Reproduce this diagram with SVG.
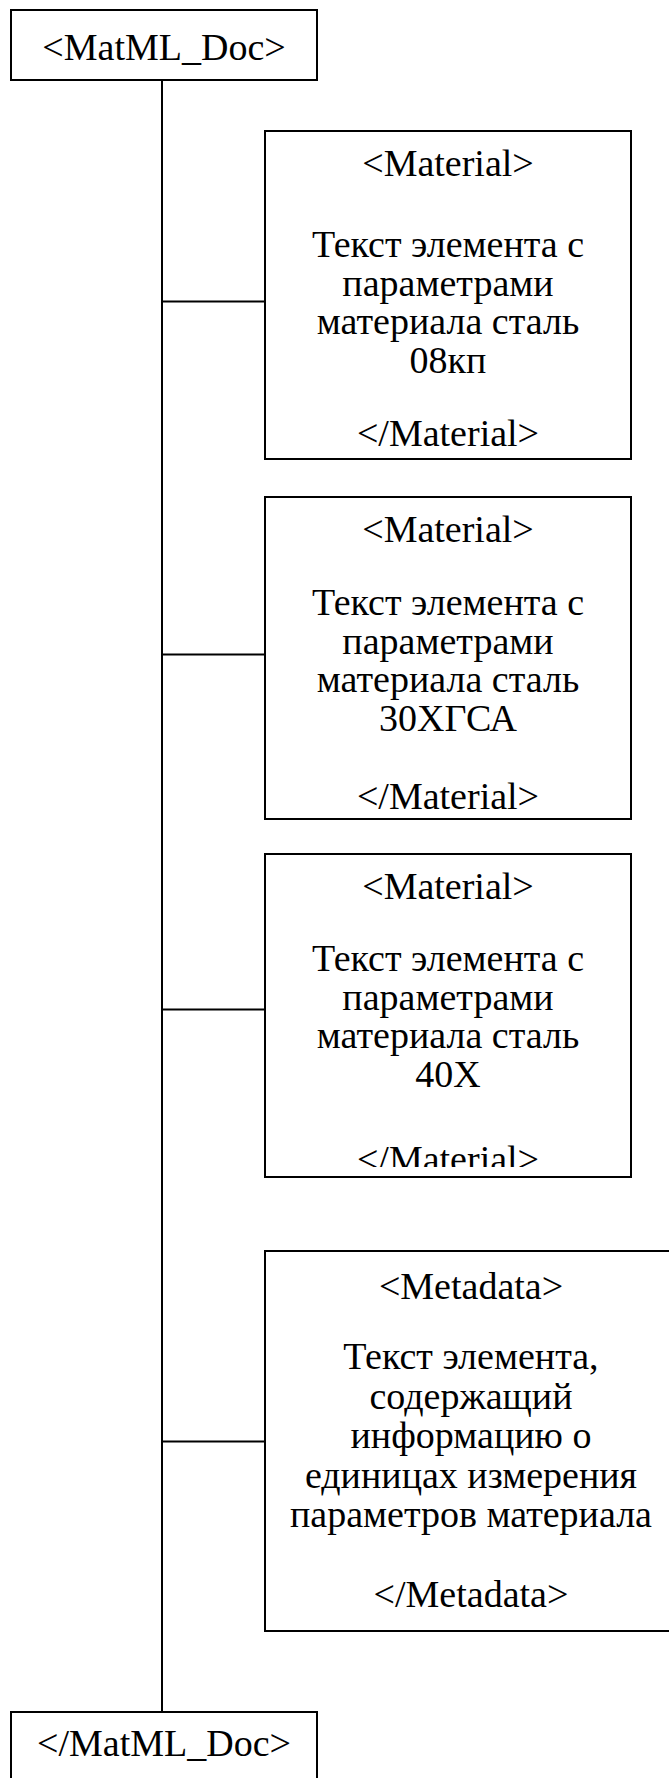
<svg xmlns="http://www.w3.org/2000/svg" width="669" height="1778" viewBox="0 0 669 1778">
<style>
.box{fill:#fff;stroke:#000;stroke-width:2}
.ln{stroke:#000;stroke-width:2;fill:none}
text{font-family:"Liberation Serif","Times New Roman",serif;font-size:38px;fill:#000;text-anchor:middle}
</style>
<defs>
<clipPath id="c1"><rect x="265" y="131" width="366" height="318"/></clipPath>
<clipPath id="c2"><rect x="265" y="497" width="366" height="312"/></clipPath>
<clipPath id="c3"><rect x="265" y="854" width="366" height="313"/></clipPath>
<clipPath id="c4"><rect x="265" y="1251" width="412" height="370"/></clipPath>
</defs>
<rect width="669" height="1778" fill="#fff"/>
<g id="connectors">
<line class="ln" x1="162" y1="80" x2="162" y2="1712"/>
<line class="ln" x1="162" y1="301.5" x2="265" y2="301.5"/>
<line class="ln" x1="162" y1="654.5" x2="265" y2="654.5"/>
<line class="ln" x1="162" y1="1009.5" x2="265" y2="1009.5"/>
<line class="ln" x1="162" y1="1441.5" x2="265" y2="1441.5"/>
</g>
<g id="doc-open">
<rect class="box" x="11" y="10" width="306" height="70"/>
<text x="164" y="60">&lt;MatML_Doc&gt;</text>
</g>
<g id="material-1">
<rect class="box" x="265" y="131" width="366" height="328"/>
<g clip-path="url(#c1)">
<text x="448" y="176">&lt;Material&gt;</text>
<text x="448" y="257">Текст элемента с</text>
<text x="448" y="295.5">параметрами</text>
<text x="448" y="334">материала сталь</text>
<text x="448" y="372.5">08кп</text>
<text x="448" y="446">&lt;/Material&gt;</text>
</g>
</g>
<g id="material-2">
<rect class="box" x="265" y="497" width="366" height="322"/>
<g clip-path="url(#c2)">
<text x="448" y="542">&lt;Material&gt;</text>
<text x="448" y="615">Текст элемента с</text>
<text x="448" y="653.5">параметрами</text>
<text x="448" y="692">материала сталь</text>
<text x="448" y="730.5">30ХГСА</text>
<text x="448" y="809">&lt;/Material&gt;</text>
</g>
</g>
<g id="material-3">
<rect class="box" x="265" y="854" width="366" height="323"/>
<g clip-path="url(#c3)">
<text x="448" y="899">&lt;Material&gt;</text>
<text x="448" y="971">Текст элемента с</text>
<text x="448" y="1009.5">параметрами</text>
<text x="448" y="1048">материала сталь</text>
<text x="448" y="1086.5">40Х</text>
<text x="448" y="1172">&lt;/Material&gt;</text>
</g>
</g>
<g id="metadata">
<rect class="box" x="265" y="1251" width="412" height="380"/>
<g clip-path="url(#c4)">
<text x="471" y="1299">&lt;Metadata&gt;</text>
<text x="471" y="1369">Текст элемента,</text>
<text x="471" y="1409">содержащий</text>
<text x="471" y="1448">информацию о</text>
<text x="471" y="1488">единицах измерения</text>
<text x="471" y="1527">параметров материала</text>
<text x="471" y="1607">&lt;/Metadata&gt;</text>
</g>
</g>
<g id="doc-close">
<rect class="box" x="11" y="1712" width="306" height="80"/>
<text x="164" y="1756">&lt;/MatML_Doc&gt;</text>
</g>
</svg>
